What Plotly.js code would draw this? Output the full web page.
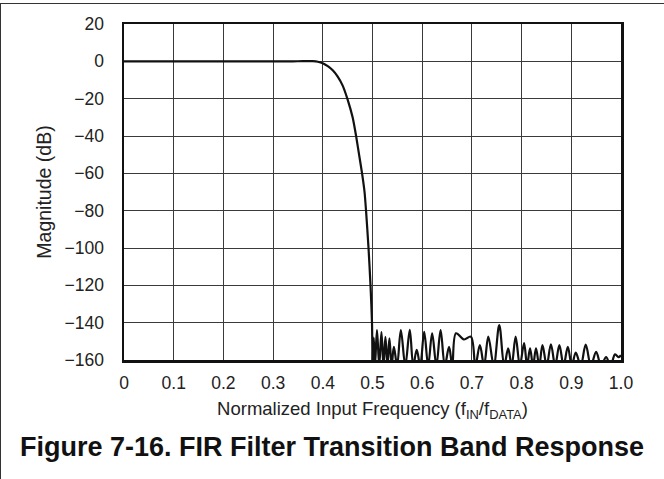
<!DOCTYPE html>
<html>
<head>
<meta charset="utf-8">
<script src="https://cdn.plot.ly/plotly-3.0.1.min.js"></script>
<style>
html,body{margin:0;padding:0;background:#fff;}
#wrap{position:relative;width:664px;height:479px;}
#chart{width:664px;height:479px;}
#frame{position:absolute;left:0;top:3px;width:664px;height:476px;border-top:1.5px solid #333;border-left:1.5px solid #333;box-sizing:border-box;pointer-events:none;}
</style>
</head>
<body>
<div id="wrap"><div id="chart"></div><div id="frame"></div></div>
<script>
// Passband and transition band
const freqPass = [0, 0.05, 0.1, 0.15, 0.2, 0.25, 0.3, 0.34, 0.36, 0.37, 0.38, 0.39, 0.40, 0.41, 0.42, 0.43, 0.44, 0.45, 0.46, 0.467, 0.473, 0.479, 0.484, 0.487, 0.492, 0.496, 0.499, 0.5];
const magPass  = [0, 0, 0, 0, 0, 0, 0, 0, 0.1, 0.15, 0.1, -0.2, -1, -2.6, -4.8, -8.2, -13, -20.5, -30, -40, -50, -60, -70, -80, -100, -120, -140, -163];

// Stopband ripple (peaks and nulls)
const freqStop = [0.500, 0.5025, 0.505, 0.509, 0.5135, 0.518, 0.522, 0.526, 0.530, 0.534, 0.5385, 0.543, 0.5495, 0.557, 0.566, 0.575, 0.582, 0.589, 0.596, 0.604, 0.612, 0.620, 0.6285, 0.637, 0.6455, 0.654, 0.6605, 0.668, 0.684, 0.698, 0.707, 0.716, 0.7245, 0.733, 0.744, 0.755, 0.765, 0.773, 0.780, 0.788, 0.7965, 0.805, 0.811, 0.817, 0.823, 0.829, 0.8355, 0.842, 0.8505, 0.859, 0.8675, 0.876, 0.8845, 0.893, 0.901, 0.909, 0.919, 0.929, 0.9395, 0.950, 0.960, 0.970, 0.979, 0.988, 0.995, 1.0];
const magStop  = [-163, -148, -163, -144, -163, -145, -163, -147.6, -163, -148.4, -163, -153, -163, -144, -163, -143.8, -163, -154.5, -163, -144.9, -163, -145.7, -163, -144, -163, -153, -163, -145.7, -149, -147.5, -163, -152, -163, -147.5, -163, -141.3, -163, -153.8, -163, -147.5, -163, -151, -163, -153.8, -163, -153.8, -163, -152, -163, -151.6, -163, -152, -163, -152.9, -163, -156, -163, -151.8, -163, -155.6, -163, -158.5, -163, -157, -158.5, -157.5];

const xTickVals = [0, 0.1, 0.2, 0.3, 0.4, 0.5, 0.6, 0.7, 0.8, 0.9, 1.0];
const xTickText = ['0', '0.1', '0.2', '0.3', '0.4', '0.5', '0.6', '0.7', '0.8', '0.9', '1.0'];
const yTickVals = [20, 0, -20, -40, -60, -80, -100, -120, -140, -160];
const yTickText = ['20', '0', '\u221220', '\u221240', '\u221260', '\u221280', '\u2212100', '\u2212120', '\u2212140', '\u2212160'];

const font = 'Liberation Sans, Arial, Helvetica, sans-serif';

const traces = [
  {x: freqPass, y: magPass, mode: 'lines', line: {color: '#111', width: 2.2, shape: 'spline', smoothing: 0.6}, hoverinfo: 'skip'},
  {x: freqStop, y: magStop, mode: 'lines', line: {color: '#111', width: 2.2, shape: 'spline', smoothing: 1}, hoverinfo: 'skip'}
];

const layout = {
  width: 664, height: 479,
  margin: {l: 124, r: 43, t: 24, b: 119},
  paper_bgcolor: '#fff', plot_bgcolor: '#fff',
  showlegend: false,
  font: {family: font, color: '#222', size: 18},
  title: {
    text: '<b>Figure 7-16. FIR Filter Transition Band Response</b>',
    font: {family: font, size: 27, color: '#111'},
    x: 0.5, xref: 'container', xanchor: 'center',
    y: 1 - 447/479, yref: 'container', yanchor: 'middle'
  },
  xaxis: {
    range: [0, 1], tickvals: xTickVals, ticktext: xTickText,
    showgrid: true, gridcolor: '#3a3a3a', gridwidth: 1,
    showline: true, mirror: true, linecolor: '#111', linewidth: 2.5,
    ticks: '', zeroline: false, ticklabelstandoff: 5,
    tickfont: {family: font, size: 17.5, color: '#222'},
    title: {text: 'Normalized Input Frequency (f<sub>IN</sub>/f<sub>DATA</sub>)', font: {family: font, size: 18.5, color: '#222'}, standoff: 11}
  },
  yaxis: {
    range: [-160, 20], tickvals: yTickVals, ticktext: yTickText,
    showgrid: true, gridcolor: '#3a3a3a', gridwidth: 1,
    showline: true, mirror: true, linecolor: '#111', linewidth: 2.5,
    ticks: '', zeroline: false, ticklabelstandoff: 14,
    tickfont: {family: font, size: 17.5, color: '#222'},
    title: {text: 'Magnitude (dB)', font: {family: font, size: 19.5, color: '#222'}, standoff: 8}
  }
};

Plotly.newPlot('chart', traces, layout, {staticPlot: true, displayModeBar: false});
</script>
</body>
</html>
